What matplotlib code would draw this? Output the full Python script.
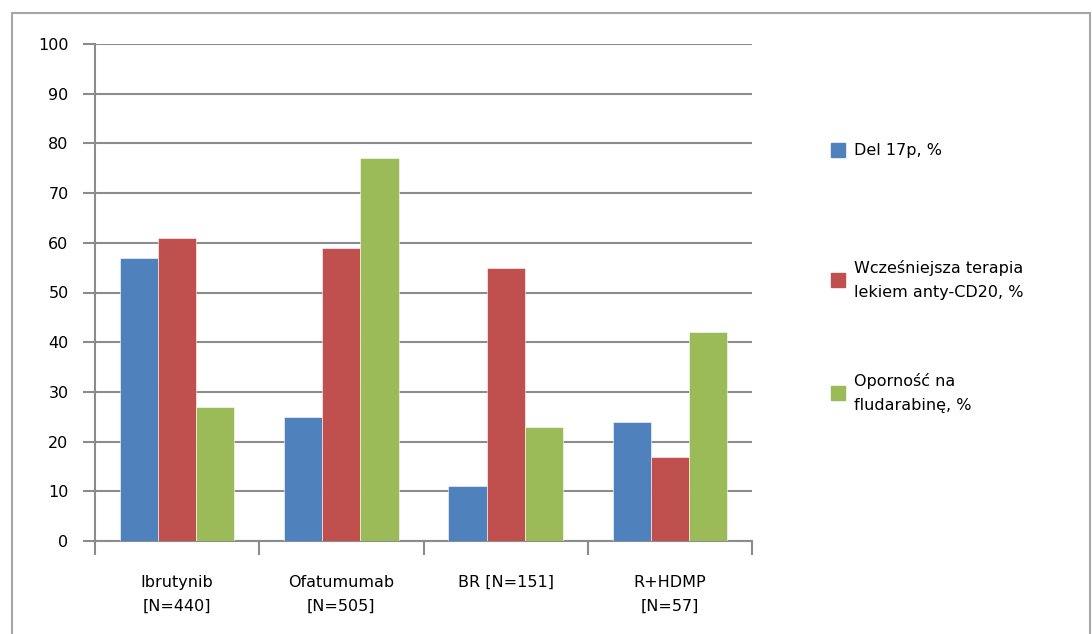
import matplotlib
matplotlib.use("Agg")
import matplotlib.pyplot as plt
import numpy as np
from matplotlib.patches import Rectangle

categories = ["Ibrutynib\n[N=440]", "Ofatumumab\n[N=505]", "BR [N=151]", "R+HDMP\n[N=57]"]
series_names = ["Del 17p, %", "Wcześniejsza terapia\nlekiem anty-CD20, %", "Oporność na\nfludarabinę, %"]
del17p = [57, 25, 11, 24]
anti_cd20 = [61, 59, 55, 17]
fludarabine = [27, 77, 23, 42]
colors = ["#4F81BD", "#C0504D", "#9BBB59"]

plt.rcParams["font.family"] = ["DejaVu Sans"]

W, H = 1092, 634
fig = plt.figure(figsize=(W / 100, H / 100), dpi=100)

# outer chart frame (runs past the bottom edge)
fig.patches.append(Rectangle((12 / W, -0.05), (1090 - 12) / W, 0.05 + (H - 13) / H,
                             transform=fig.transFigure, fill=False,
                             edgecolor="#A6A6A6", linewidth=1.5))

ax = fig.add_axes([95 / W, 1 - 541 / H, (752 - 95) / W, (541 - 44) / H])

x = np.arange(len(categories))
bw = 0.232
for i, (vals, name) in enumerate(zip([del17p, anti_cd20, fludarabine], series_names)):
    ax.bar(x + (i - 1) * bw, vals, width=bw, color=colors[i],
           edgecolor="white", linewidth=0.4, zorder=3, label=name)

ax.set_xlim(-0.5, len(categories) - 0.5)
ax.set_ylim(0, 100)
ax.set_yticks(np.arange(0, 101, 10))
ax.yaxis.grid(True, color="#8C8C8C", linewidth=1.5, zorder=0)
ax.set_axisbelow(True)

for s in ["top", "right"]:
    ax.spines[s].set_visible(False)
for s in ["left", "bottom"]:
    ax.spines[s].set_color("#8C8C8C")
    ax.spines[s].set_linewidth(1.5)

ax.tick_params(axis="y", length=9, width=1.5, color="#8C8C8C", labelsize=11.5, pad=10)
ax.set_xticks(np.arange(-0.5, len(categories), 1.0))
ax.set_xticklabels([])
ax.tick_params(axis="x", length=10, width=1.5, color="#8C8C8C")
for xi, lab in zip(x, categories):
    ax.text(xi, -0.068, lab, transform=ax.get_xaxis_transform(), ha="center",
            va="top", fontsize=11.5, linespacing=1.75)

# legend
legend_y = [150, 280, 393]
for yy, name, c in zip(legend_y, series_names, colors):
    fig.patches.append(Rectangle((831 / W, 1 - (yy + 7) / H), 14 / W, 14 / H,
                                 transform=fig.transFigure, color=c))
    fig.text(854 / W, 1 - yy / H, name, ha="left", va="center", fontsize=11.5,
             linespacing=1.75)

fig.savefig("out.png", dpi=100)
